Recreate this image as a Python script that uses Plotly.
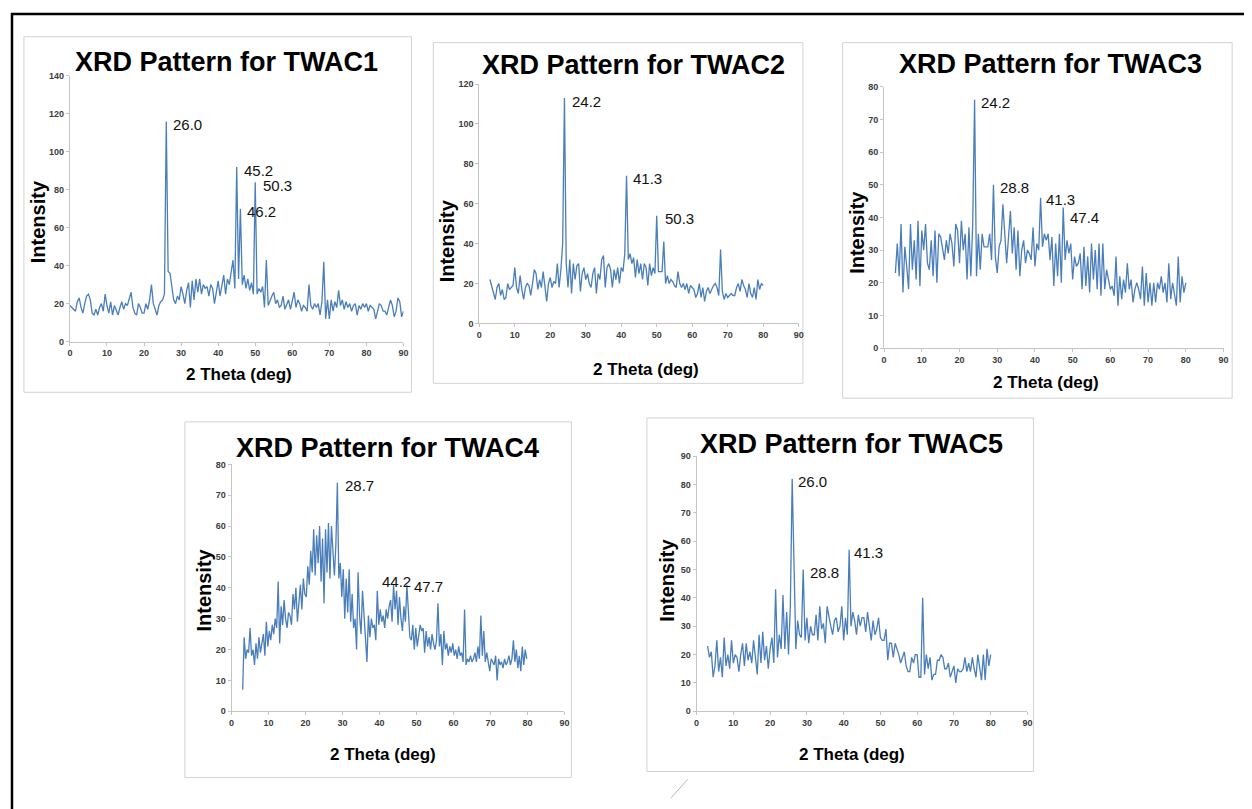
import plotly.graph_objects as go

# ---------------- DATA ----------------
# XRD scans: intensity sampled every 0.5 deg (TWAC4 every 0.4 deg)
twac1_start, twac1_step = 0.0, 0.5
twac1_y = [
    19, 18, 17, 16, 21, 23, 18, 15, 20, 24,
    25, 22, 15, 14, 17, 14, 18, 20, 16, 25,
    19, 15, 21, 14, 19, 16, 14, 18, 21, 17,
    20, 19, 22, 26, 18, 15, 14, 20, 18, 15,
    15, 20, 17, 22, 30, 20, 17, 14, 19, 21,
    22, 25, 116, 37, 36, 28, 22, 20, 24, 22,
    29, 25, 20, 27, 31, 18, 32, 22, 33, 26,
    33, 25, 30, 28, 29, 24, 30, 28, 20, 26,
    32, 24, 30, 35, 25, 33, 30, 36, 43, 28,
    92, 33, 70, 30, 35, 28, 33, 27, 31, 25,
    84, 25, 28, 26, 29, 18, 43, 19, 22, 24,
    26, 20, 22, 18, 19, 24, 17, 20, 22, 17,
    21, 26, 18, 22, 20, 16, 19, 18, 16, 30,
    19, 17, 20, 18, 20, 14, 21, 42, 12, 22,
    12, 22, 16, 21, 18, 27, 19, 22, 17, 21,
    18, 20, 16, 19, 20, 14, 19, 17, 20, 18,
    20, 16, 19, 18, 17, 12, 16, 20, 19, 16,
    16, 14, 18, 22, 19, 13, 16, 23, 21, 13,
    16,
]
twac1_peak_x = [26.0, 45.2, 46.2, 50.3]
twac1_peak_y = [116, 92, 70, 84]
twac1_peak_labels = ["26.0", "45.2", "46.2", "50.3"]

twac2_start, twac2_step = 3.0, 0.5
twac2_y = [
    22, 19, 15, 12, 18, 20, 14, 17, 12, 13,
    20, 17, 18, 19, 28, 18, 15, 24, 17, 12,
    18, 20, 19, 14, 20, 27, 25, 17, 22, 18,
    26, 18, 11, 20, 23, 18, 21, 20, 30, 18,
    27, 40, 113, 30, 18, 32, 15, 30, 22, 29,
    30, 16, 25, 28, 22, 25, 20, 18, 25, 28,
    15, 25, 22, 32, 34, 18, 28, 30, 27, 18,
    27, 22, 28, 20, 28, 26, 35, 74, 32, 35,
    30, 33, 23, 32, 25, 30, 22, 30, 28, 19,
    30, 24, 28, 25, 54, 26, 26, 26, 41, 20,
    24, 20, 22, 21, 19, 18, 26, 20, 18, 20,
    17, 20, 15, 19, 18, 17, 13, 15, 20, 13,
    18, 11, 16, 18, 15, 17, 19, 20, 18, 14,
    37, 16, 12, 15, 13, 14, 15, 14, 14, 18,
    20, 16, 22, 19, 17, 13, 20, 15, 13, 18,
    12, 22, 17, 20, 19,
]
twac2_peak_x = [24.2, 41.3, 50.3]
twac2_peak_y = [113, 74, 54]
twac2_peak_labels = ["24.2", "41.3", "50.3"]

twac3_start, twac3_step = 3.0, 0.5
twac3_y = [
    23, 32, 22, 38, 17, 31, 25, 18, 38, 24,
    33, 21, 39, 19, 36, 30, 38, 26, 24, 33,
    22, 36, 20, 35, 34, 30, 27, 33, 29, 35,
    32, 25, 38, 36, 26, 39, 30, 35, 21, 37,
    22, 38, 76, 22, 35, 24, 35, 31, 31, 31,
    35, 27, 50, 28, 23, 31, 33, 44, 35, 26,
    34, 42, 29, 37, 24, 36, 22, 30, 33, 26,
    30, 29, 27, 37, 25, 32, 30, 46, 31, 35,
    33, 35, 27, 34, 19, 32, 22, 35, 20, 43,
    27, 33, 29, 32, 21, 28, 25, 26, 29, 18,
    31, 19, 28, 17, 32, 21, 30, 18, 32, 16,
    32, 18, 24, 21, 18, 19, 16, 28, 13, 22,
    15, 21, 17, 26, 18, 21, 14, 18, 20, 18,
    15, 25, 13, 23, 14, 20, 13, 20, 14, 20,
    18, 22, 17, 20, 14, 26, 15, 20, 16, 13,
    28, 14, 22, 17, 20,
]
twac3_peak_x = [24.2, 28.8, 41.3, 47.4]
twac3_peak_y = [76, 50, 46, 43]
twac3_peak_labels = ["24.2", "28.8", "41.3", "47.4"]

twac4_start, twac4_step = 3.0, 0.4
twac4_y = [
    7, 24, 17, 20, 19, 27, 18, 20, 15, 22,
    17, 24, 19, 22, 25, 18, 29, 21, 26, 23,
    28, 25, 30, 27, 42, 22, 34, 28, 36, 30,
    27, 32, 31, 28, 38, 33, 40, 29, 36, 41,
    33, 43, 38, 37, 47, 41, 52, 45, 59, 44,
    57, 48, 60, 42, 56, 35, 59, 45, 61, 43,
    60, 51, 44, 54, 74, 43, 48, 37, 46, 30,
    43, 32, 46, 29, 38, 27, 30, 20, 45, 31,
    25, 39, 31, 26, 16, 31, 24, 30, 27, 28,
    23, 39, 28, 33, 29, 31, 27, 33, 30, 34,
    36, 29, 41, 33, 39, 28, 37, 30, 26, 34,
    29, 41, 33, 24, 23, 28, 20, 27, 21, 25,
    28, 26, 27, 19, 26, 21, 24, 20, 25, 22,
    20, 23, 35, 21, 25, 15, 26, 20, 22, 18,
    21, 19, 22, 18, 20, 17, 21, 18, 19, 16,
    33, 15, 17, 16, 18, 16, 17, 19, 16, 21,
    17, 31, 18, 26, 16, 19, 15, 13, 17, 16,
    15, 18, 10, 17, 15, 16, 14, 17, 15, 16,
    18, 15, 17, 23, 16, 20, 14, 18, 13, 21,
    15, 20, 17,
]
twac4_peak_x = [28.7, 44.2, 47.7]
twac4_peak_y = [74, 41, 41]
twac4_peak_labels = ["28.7", "44.2", "47.7"]

twac5_start, twac5_step = 3.0, 0.5
twac5_y = [
    23, 19, 21, 12, 16, 25, 14, 19, 12, 26,
    16, 20, 15, 25, 17, 20, 19, 14, 20, 24,
    16, 24, 18, 21, 17, 25, 19, 13, 27, 17,
    28, 18, 23, 15, 22, 26, 17, 43, 19, 27,
    22, 41, 22, 35, 20, 37, 82, 45, 22, 32,
    27, 26, 50, 25, 33, 24, 30, 27, 27, 34,
    25, 37, 29, 31, 24, 37, 33, 30, 27, 32,
    33, 28, 30, 37, 25, 33, 27, 57, 30, 35,
    32, 27, 34, 30, 33, 33, 28, 35, 30, 25,
    32, 27, 29, 33, 26, 25, 25, 29, 18, 24,
    24, 19, 24, 22, 20, 17, 19, 21, 16, 14,
    14, 19, 17, 20, 20, 12, 12, 40, 13, 20,
    15, 19, 11, 13, 13, 18, 18, 20, 19, 15,
    15, 17, 12, 14, 16, 10, 15, 14, 14, 15,
    19, 14, 17, 14, 19, 15, 12, 20, 15, 11,
    20, 11, 22, 16, 20,
]
twac5_peak_x = [26.0, 28.8, 41.3]
twac5_peak_y = [82, 50, 57]
twac5_peak_labels = ["26.0", "28.8", "41.3"]

panel_titles = ["XRD Pattern for TWAC1", "XRD Pattern for TWAC2", "XRD Pattern for TWAC3",
                "XRD Pattern for TWAC4", "XRD Pattern for TWAC5"]
y_max = [140, 120, 80, 80, 90]
y_dtick = [20, 20, 10, 10, 10]
x_title = "2 Theta (deg)"
y_title = "Intensity"

# ---------------- LAYOUT (page pixels) ----------------
W, H = 1252, 809
OFF = 8  # the page places the figure 8px from the top-left corner


def fx(v):
    return (v - OFF) / W


def fy(v):
    return 1 - (v - OFF) / H


# plot-area: x of 0deg, x of 90deg, y of top value, y of 0
areas = [
    (67.3, 403.0, 71.7, 340.7),
    (479.3, 800.7, 80.0, 322.3),
    (886.7, 1228.3, 82.7, 347.3),
    (230.0, 565.0, 465.0, 715.0),
    (698.0, 1031.0, 456.7, 715.0),
]
boxes = [
    (21, 32, 411, 392),
    (433, 38, 805, 383),
    (845, 38, 1237, 398),
    (183, 422, 572, 782),
    (648, 418, 1037, 776),
]
title_pos = [(225, 58), (635, 61), (1054, 60), (387, 448), (854, 444)]
ytitle_pos = [(36, 219), (447, 239), (860, 230), (202, 592), (668, 582)]
xtitle_pos = [(237, 374), (647, 369), (1050, 382), (382, 759), (854, 759)]
label_style = [
    [dict(xanchor="left", xshift=5, yshift=-3), dict(xanchor="left", xshift=5, yshift=-3),
     dict(xanchor="left", xshift=4, yshift=-3), dict(xanchor="left", xshift=5, yshift=-3)],
    [dict(xanchor="left", xshift=5, yshift=-3)] * 3,
    [dict(xanchor="left", xshift=4, yshift=-3), dict(xanchor="left", xshift=5, yshift=-3),
     dict(xanchor="left", xshift=4, yshift=-2), dict(xanchor="left", xshift=5, yshift=-10)],
    [dict(xanchor="left", xshift=5, yshift=-3), dict(xanchor="center", xshift=1, yshift=3),
     dict(xanchor="left", xshift=4, yshift=-2)],
    [dict(xanchor="left", xshift=4, yshift=-3), dict(xanchor="left", xshift=6, yshift=-3),
     dict(xanchor="left", xshift=4, yshift=-3)],
]

series = [
    (twac1_start, twac1_step, twac1_y, twac1_peak_x, twac1_peak_y, twac1_peak_labels),
    (twac2_start, twac2_step, twac2_y, twac2_peak_x, twac2_peak_y, twac2_peak_labels),
    (twac3_start, twac3_step, twac3_y, twac3_peak_x, twac3_peak_y, twac3_peak_labels),
    (twac4_start, twac4_step, twac4_y, twac4_peak_x, twac4_peak_y, twac4_peak_labels),
    (twac5_start, twac5_step, twac5_y, twac5_peak_x, twac5_peak_y, twac5_peak_labels),
]

FONT = "Liberation Sans, Arial, sans-serif"
LINE_COLOR = "#4a7ebb"
AXIS_COLOR = "#c4c4c4"

fig = go.Figure()
annotations = []
shapes = []
layout_axes = {}

for i, (start, step, ys, pk_x, pk_y, pk_lab) in enumerate(series):
    n = i + 1
    xs = [round(start + step * k, 2) for k in range(len(ys))]
    xa = "x" if n == 1 else f"x{n}"
    ya = "y" if n == 1 else f"y{n}"
    fig.add_trace(go.Scatter(
        x=xs, y=ys, mode="lines",
        line=dict(color=LINE_COLOR, width=1.3),
        xaxis=xa, yaxis=ya, showlegend=False, hoverinfo="skip",
    ))
    x0, x1, ytop, ybot = areas[i]
    axis_common = dict(
        showline=True, linecolor=AXIS_COLOR, linewidth=1,
        ticks="outside", ticklen=3, tickcolor=AXIS_COLOR,
        showgrid=False, zeroline=False,
        tickfont=dict(family=FONT, size=9, color="#3c3c3c", weight="bold"),
        fixedrange=True,
    )
    layout_axes["xaxis" if n == 1 else f"xaxis{n}"] = dict(
        domain=[fx(x0), fx(x1)], range=[0, 90], dtick=10, tick0=0,
        anchor=ya, **axis_common)
    layout_axes["yaxis" if n == 1 else f"yaxis{n}"] = dict(
        domain=[fy(ybot), fy(ytop)], range=[0, y_max[i]],
        dtick=y_dtick[i], tick0=0, anchor=xa, **axis_common)

    # peak labels
    for j, (px_, py_, lab) in enumerate(zip(pk_x, pk_y, pk_lab)):
        st = label_style[i][j]
        annotations.append(dict(
            x=px_, y=py_, xref=xa, yref=ya, text=lab, showarrow=False,
            xanchor=st["xanchor"], yanchor="middle", xshift=st["xshift"], yshift=st["yshift"],
            font=dict(family=FONT, size=15, color="#111111"),
        ))

    # panel box
    bx0, by0, bx1, by1 = boxes[i]
    shapes.append(dict(type="rect", xref="paper", yref="paper",
                       x0=fx(bx0), x1=fx(bx1), y0=fy(by1), y1=fy(by0),
                       line=dict(color="#d2d2d2", width=1), layer="below"))

    # titles
    tx, ty = title_pos[i]
    annotations.append(dict(x=fx(tx), y=fy(ty), xref="paper", yref="paper",
                            text=f"<b>{panel_titles[i]}</b>", showarrow=False,
                            xanchor="center", yanchor="middle",
                            font=dict(family=FONT, size=27, color="#000000")))
    yx, yy = ytitle_pos[i]
    annotations.append(dict(x=fx(yx), y=fy(yy), xref="paper", yref="paper",
                            text=f"<b>{y_title}</b>", showarrow=False, textangle=-90,
                            xanchor="center", yanchor="middle",
                            font=dict(family=FONT, size=20, color="#000000")))
    xx, xy = xtitle_pos[i]
    annotations.append(dict(x=fx(xx), y=fy(xy), xref="paper", yref="paper",
                            text=f"<b>{x_title}</b>", showarrow=False,
                            xanchor="center", yanchor="middle",
                            font=dict(family=FONT, size=17, color="#000000")))

# outer black frame (top and left visible); drawn at the figure's edge
shapes.append(dict(type="line", xref="paper", yref="paper",
                   x0=0, x1=1.0, y0=1 - 1 / H, y1=1 - 1 / H,
                   line=dict(color="#000000", width=2.5)))
shapes.append(dict(type="line", xref="paper", yref="paper",
                   x0=1 / W, x1=1 / W, y0=0, y1=1,
                   line=dict(color="#000000", width=2.5)))
# small stray stroke below bottom panels
shapes.append(dict(type="line", xref="paper", yref="paper",
                   x0=fx(689), y0=fy(784), x1=fx(672), y1=fy(803),
                   line=dict(color="#b8b8b8", width=1)))

fig.update_layout(
    width=W, height=H,
    margin=dict(l=0, r=0, t=0, b=0),
    paper_bgcolor="#ffffff", plot_bgcolor="rgba(0,0,0,0)",
    annotations=annotations, shapes=shapes,
    **layout_axes,
)

fig.write_html("out.html")
